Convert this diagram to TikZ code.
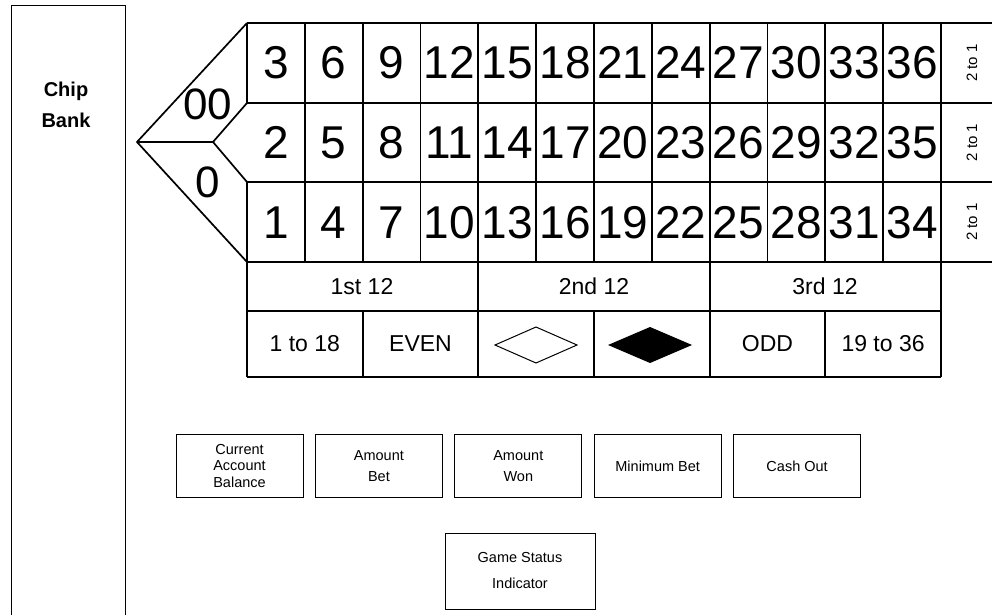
\documentclass[tikz,border=0pt]{standalone}
\usepackage{fontspec}
\setmainfont{Liberation Sans}
\usetikzlibrary{positioning}

\begin{document}
\begin{tikzpicture}[x=1pt,y=-1pt,
  grid/.style={line width=1.7pt},
  num/.style={inner sep=0pt,font=\fontsize{46}{46}\selectfont},
  bet/.style={inner sep=0pt,font=\fontsize{23}{23}\selectfont},
  col/.style={inner sep=0pt,rotate=90,font=\fontsize{15}{15}\selectfont},
  btn/.style={draw,line width=0.9pt,minimum width=127pt,minimum height=63pt,align=center,font=\fontsize{14.5}{16.5}\selectfont}]
\useasboundingbox (0,0) rectangle (992,615);

% chip bank
\draw[line width=0.9pt] (11,615) -- (11,5) -- (125,5) -- (125,615);
\node[align=center,font=\bfseries\fontsize{20}{31}\selectfont] (bank) at (66,105) {Chip\\Bank};

% zero end
\draw[grid] (247,23) -- (137,142) -- (247,262);
\draw[grid] (137,142) -- (213,142);
\draw[grid] (247,103) -- (213,142) -- (247,182);
\draw[grid] (247,23) -- (247,103);
\draw[grid] (247,182) -- (247,377);
\node[num,font=\fontsize{44}{44}\selectfont] (dz) at (208,104) {00};
\node[num,font=\fontsize{44}{44}\selectfont] (z) at (208,182) {0};

% number grid
\foreach \y in {23,103,182,262} \draw[grid] (247,\y) -- (992,\y);
\foreach \k in {1,...,11} \draw[grid] ({247+\k*57.83},23) -- ({247+\k*57.83},262);
\draw[grid] (941,23) -- (941,377);
\foreach \c in {0,...,11} \foreach \r in {0,1,2} {
  \pgfmathtruncatemacro\n{3*\c+3-\r}
  \node[num] (n\n) at ({247+(\c+0.5)*57.83},{23+(\r+0.5)*79.67}) {\n};
}
\node[col] (c3) at (972,63) {2 to 1};
\node[col] (c2) at (972,142.5) {2 to 1};
\node[col] (c1) at (972,222) {2 to 1};

% outside bets
\draw[grid] (247,311) -- (941,311);
\draw[grid] (247,377) -- (941,377);
\foreach \k in {4,8} \draw[grid] ({247+\k*57.83},262) -- ({247+\k*57.83},377);
\foreach \k in {2,6,10} \draw[grid] ({247+\k*57.83},311) -- ({247+\k*57.83},377);
\node[bet] (d1) at (362,286.5) {1st 12};
\node[bet] (d2) at (594,286.5) {2nd 12};
\node[bet] (d3) at (825,286.5) {3rd 12};
\node[bet] (low) at (304.8,344) {1 to 18};
\node[bet] (even) at (420.5,344) {EVEN};
\node[bet] (odd) at (767.5,344) {ODD};
\node[bet] (high) at (883.1,344) {19 to 36};
\draw[line width=1pt] (495,345) -- (536,327) -- (577,345) -- (536,363) -- cycle;
\fill[line join=round] (608,345) -- (650,327) -- (692,345) -- (650,363) -- cycle;

% display boxes
\node[btn] (bal) at (239.5,466) {Current\\Account\\Balance};
\node[btn,right=11.5pt of bal] (amt) {Amount\\[4.5pt]Bet};
\node[btn,right=11.5pt of amt] (won) {Amount\\[4.5pt]Won};
\node[btn,right=11.5pt of won] (min) {Minimum Bet};
\node[btn,right=11.5pt of min] (cash) {Cash Out};
\node[btn,minimum width=150pt,minimum height=76pt] (gsi) at (520,571) {Game Status\\[9.5pt]Indicator};
\end{tikzpicture}
\end{document}
